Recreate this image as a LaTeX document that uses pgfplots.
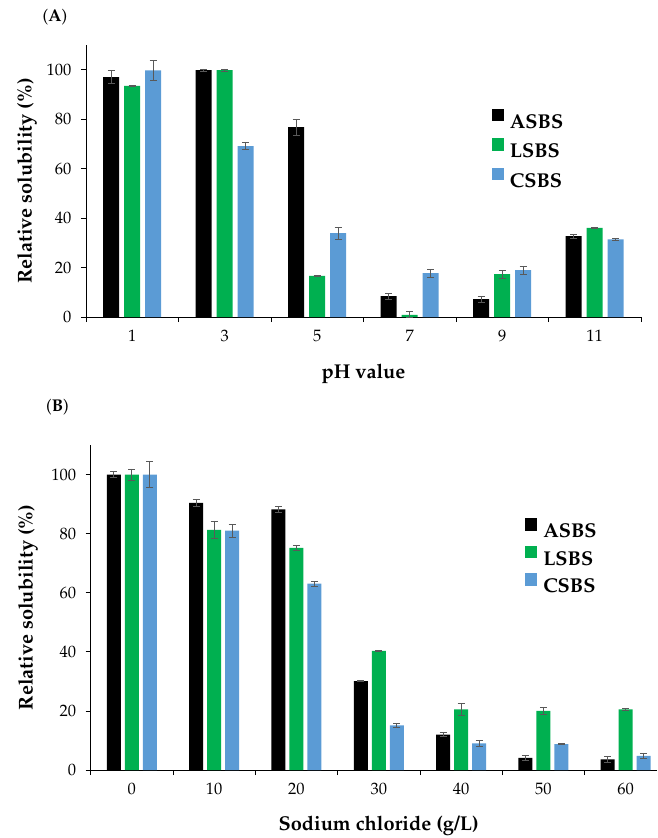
\documentclass[border=0pt]{standalone}
\usepackage[T1]{fontenc}
\usepackage{mathpazo}
\usepackage{pgfplots}
\pgfplotsset{compat=1.18}
\definecolor{cgreen}{RGB}{0,176,80}
\definecolor{cblue}{RGB}{91,155,213}
\definecolor{errgray}{RGB}{89,89,89}
\pgfplotsset{
  mybars/.style={
    scale only axis,
    anchor=south west,
    ybar=#1,
    ymin=0, ymax=110,
    axis x line=bottom, axis y line=left,
    axis line style={-, black, line width=0.8pt},
    ytick={0,20,...,100},
    tick align=outside,
    major tick length=5pt,
    tick style={black, line width=0.8pt},
    tick label style={font=\fontsize{16.5}{19}\selectfont},
    yticklabel style={xshift=-6pt},
    xticklabels={},
    extra x tick style={major tick length=0pt, tick label style={anchor=center, yshift=-19pt}},
    legend cell align=left,
    legend image code/.code={\fill[##1,draw=none] (0pt,0pt) rectangle (12pt,12.5pt);},
    legend style={draw=none, fill=none, inner sep=0pt, anchor=north west,
      font=\fontsize{20}{24}\selectfont\bfseries, column sep=6pt,
      nodes={inner sep=0pt, text height=14pt, text depth=0pt}},
    label style={font=\fontsize{20}{24}\selectfont\bfseries},
    every axis plot/.append style={draw=none,
      error bars/y dir=both, error bars/y explicit,
      error bars/error bar style={color=errgray, line width=0.8pt},
      error bars/error mark options={rotate=90, mark size=3.5pt, line width=0.8pt, color=errgray}},
  }
}
\begin{document}
\begin{tikzpicture}
\path[use as bounding box] (0pt,0pt) rectangle (657pt,-838pt);
\node[font=\fontsize{17}{20}\selectfont] at (55pt,-17pt) {(\textbf{A})};
\node[font=\fontsize{17}{20}\selectfont] at (57.5pt,-407pt) {(\textbf{B})};
% Panel A
\begin{axis}[mybars=5pt,
  at={(86pt,-317pt)},
  width=555pt, height=272pt,
  xmin=-0.5, xmax=5.5,
  bar width=16pt,
  xtick={-0.5,0.5,...,5.5},
  extra x ticks={0,1,2,3,4,5},
  extra x tick labels={1,3,5,7,9,11},
  xlabel={pH value},
  ylabel={Relative solubility (\%)},
  xlabel style={at={(axis description cs:0.5,0)}, anchor=center, yshift=-57pt},
  ylabel style={at={(axis description cs:0,0.5)}, anchor=center, yshift=59pt},
  legend style={at={(0.731,0.767)}, row sep=10pt},
]
\addplot[fill=black] coordinates {(0,97.0) +- (0,2.6) (1,99.8) +- (0,0.5) (2,76.8) +- (0,3.2) (3,8.4) +- (0,1.2) (4,7.2) +- (0,1.2) (5,32.7) +- (0,0.8)};
\addplot[fill=cgreen] coordinates {(0,93.5) +- (0,0.3) (1,99.8) +- (0,0.5) (2,16.6) +- (0,0.3) (3,0.9) +- (0,1.2) (4,17.3) +- (0,1.6) (5,36.0) +- (0,0.3)};
\addplot[fill=cblue] coordinates {(0,99.7) +- (0,4.2) (1,69.1) +- (0,1.5) (2,33.9) +- (0,2.4) (3,17.7) +- (0,1.6) (4,19.0) +- (0,1.6) (5,31.4) +- (0,0.3)};
\legend{ASBS,LSBS,CSBS}
\end{axis}
% Panel B
\begin{axis}[mybars=4pt,
  at={(90.7pt,-770pt)},
  width=566.3pt, height=325pt,
  xmin=-0.5, xmax=6.38,
  bar width=14pt,
  xtick={-0.5,0.5,...,5.5},
  extra x ticks={0,1,2,3,4,5,6},
  extra x tick labels={0,10,20,30,40,50,60},
  xlabel={Sodium chloride (g/L)},
  ylabel={Relative solubility (\%)},
  xlabel style={at={(axis description cs:0.5086,0)}, anchor=center, yshift=-56pt},
  ylabel style={at={(axis description cs:0,0.5)}, anchor=center, yshift=62.7pt},
  legend style={at={(0.767,0.775)}, row sep=8pt},
]
\addplot[fill=black] coordinates {(0,100) +- (0,1.0) (1,90.4) +- (0,1.1) (2,88.2) +- (0,1.0) (3,30.1) +- (0,0.2) (4,12.0) +- (0,0.7) (5,4.1) +- (0,0.7) (6,3.6) +- (0,1.1)};
\addplot[fill=cgreen] coordinates {(0,100) +- (0,1.9) (1,81.3) +- (0,3.0) (2,75.2) +- (0,0.8) (3,40.3) +- (0,0.3) (4,20.5) +- (0,2.1) (5,20.0) +- (0,1.1) (6,20.5) +- (0,0.3)};
\addplot[fill=cblue] coordinates {(0,100) +- (0,4.5) (1,81.0) +- (0,2.2) (2,63.1) +- (0,0.8) (3,15.1) +- (0,0.8) (4,9.0) +- (0,1.0) (5,8.8) +- (0,0.3) (6,4.8) +- (0,0.8)};
\legend{ASBS,LSBS,CSBS}
\end{axis}
\end{tikzpicture}
\end{document}
